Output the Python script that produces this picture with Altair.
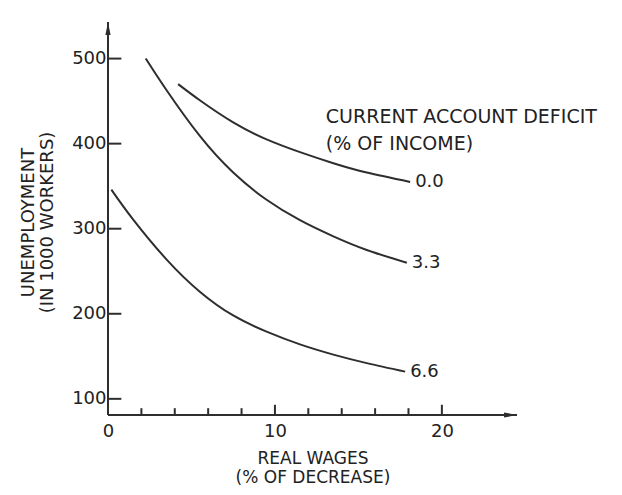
import altair as alt
import pandas as pd

# ---- data ----
X_DOMAIN = [0, 24.5]
Y_DOMAIN = [81, 543]

Y_TICKS = [100, 200, 300, 400, 500]
X_MINOR_TICKS = [2, 4, 6, 8, 12, 14, 16, 18]
X_MAJOR_TICKS = [10, 20]
X_LABELS = [0, 10, 20]

DEFICITS = ["0.0", "3.3", "6.6"]
CURVE_00_X = [4.2, 5.5, 7.5, 9.5, 11.5, 13.5, 15.5, 18.1]
CURVE_00_Y = [470, 451, 425, 405, 390, 377, 366, 355]
CURVE_33_X = [2.26, 3.5, 5.5, 7.5, 9.5, 11.5, 13.5, 15.5, 17.9]
CURVE_33_Y = [500, 463, 409, 366, 334, 310, 291, 275, 260]
CURVE_66_X = [0.2, 1.5, 3.5, 5.5, 7.5, 9.5, 11.5, 13.5, 15.5, 17.8]
CURVE_66_Y = [346, 311, 264, 226, 198, 179, 164, 152, 142, 132]

NOTE_LINES = ["CURRENT ACCOUNT DEFICIT", "(% OF INCOME)"]
NOTE_X = [13.05, 13.05]
NOTE_Y = [431, 399]

X_TITLE = ["REAL WAGES", "(% OF DECREASE)"]
Y_TITLE = ["UNEMPLOYMENT", "(IN 1000 WORKERS)"]

FONT = "DejaVu Sans"
INK = "#222222"
LINE = "#2e2e2e"
FS = 18

# ---- tables ----
rows = []
for name, xv, yv in [(DEFICITS[0], CURVE_00_X, CURVE_00_Y),
                     (DEFICITS[1], CURVE_33_X, CURVE_33_Y),
                     (DEFICITS[2], CURVE_66_X, CURVE_66_Y)]:
    for i, (x, y) in enumerate(zip(xv, yv)):
        rows.append({"deficit": name, "x": x, "y": y, "order": i})
curves = pd.DataFrame(rows)
ends = curves.sort_values("order").groupby("deficit").tail(1)

axis_lines = pd.DataFrame({
    "x": [X_DOMAIN[0], X_DOMAIN[0]],
    "x2": [X_DOMAIN[0], X_DOMAIN[1]],
    "y": [Y_DOMAIN[0], Y_DOMAIN[0]],
    "y2": [Y_DOMAIN[1], Y_DOMAIN[0]],
})
ytick_df = pd.DataFrame({"y": Y_TICKS, "x": 0.0, "x2": 0.8})
xtick_df = pd.DataFrame({
    "x": X_MINOR_TICKS + X_MAJOR_TICKS,
    "y": Y_DOMAIN[0],
    "y2": [Y_DOMAIN[0] + 8] * len(X_MINOR_TICKS) + [Y_DOMAIN[0] + 12] * len(X_MAJOR_TICKS),
})
arrow_up = pd.DataFrame({"x": [X_DOMAIN[0]], "y": [Y_DOMAIN[1]]})
arrow_right = pd.DataFrame({"x": [X_DOMAIN[1]], "y": [Y_DOMAIN[0]]})
note_df = pd.DataFrame({"text": NOTE_LINES, "x": NOTE_X, "y": NOTE_Y})

xs = alt.Scale(domain=X_DOMAIN, nice=False, zero=False)
ys = alt.Scale(domain=Y_DOMAIN, nice=False, zero=False)

x_axis = alt.Axis(values=X_LABELS, domain=False, ticks=False, tickSize=0,
                  grid=False, labelPadding=7, labelFontSize=FS, labelFont=FONT,
                  labelColor=INK, title=X_TITLE, titleFont=FONT, titleFontSize=17,
                  titleFontWeight="normal", titleColor=INK, titleLineHeight=19,
                  titleBaseline="alphabetic", titleY=48, labelFlush=False)
y_axis = alt.Axis(values=Y_TICKS, domain=False, ticks=False, tickSize=0,
                  grid=False, labelPadding=2, labelFontSize=FS, labelFont=FONT,
                  labelColor=INK, title=Y_TITLE, titleFont=FONT, titleFontSize=FS,
                  titleFontWeight="normal", titleColor=INK, titleLineHeight=19,
                  titleAngle=270, titleX=-80, titleY=200, titleAlign="center",
                  titleBaseline="middle", labelFlush=False)


def X(field):
    return alt.X(field, scale=xs, axis=x_axis)


def Y(field):
    return alt.Y(field, scale=ys, axis=y_axis)


axes = alt.Chart(axis_lines).mark_rule(color=LINE, strokeWidth=2).encode(
    x=X("x:Q"), x2="x2:Q", y=Y("y:Q"), y2="y2:Q",
)
yticks = alt.Chart(ytick_df).mark_rule(color=LINE, strokeWidth=2).encode(
    x=X("x:Q"), x2="x2:Q", y=Y("y:Q"),
)
xticks = alt.Chart(xtick_df).mark_rule(color=LINE, strokeWidth=2).encode(
    x=X("x:Q"), y=Y("y:Q"), y2="y2:Q",
)
up = alt.Chart(arrow_up).mark_point(
    shape="M0,0L-0.3,1.5L0.3,1.5Z", filled=True, color=LINE, opacity=1, size=300
).encode(x=X("x:Q"), y=Y("y:Q"))
right = alt.Chart(arrow_right).mark_point(
    shape="M0,0L-1.5,-0.3L-1.5,0.3Z", filled=True, color=LINE, opacity=1, size=300
).encode(x=X("x:Q"), y=Y("y:Q"))

lines = alt.Chart(curves).mark_line(color=LINE, strokeWidth=2, interpolate="natural").encode(
    x=X("x:Q"),
    y=Y("y:Q"),
    detail="deficit:N",
    order="order:Q",
)
end_labels = alt.Chart(ends).mark_text(
    align="left", baseline="middle", dx=5, font=FONT, fontSize=FS, color=INK
).encode(x=X("x:Q"), y=Y("y:Q"), text="deficit:N")
note = alt.Chart(note_df).mark_text(
    align="left", baseline="middle", font=FONT, fontSize=19, color=INK
).encode(x=X("x:Q"), y=Y("y:Q"), text="text:N")

chart = alt.layer(axes, yticks, xticks, up, right, lines, end_labels, note).properties(
    width=409, height=393,
    autosize=alt.AutoSizeParams(type="none"),
    padding={"left": 100, "top": 14, "right": 97, "bottom": 72},
    background="white",
).configure_view(stroke=None)

chart.save("out.html", embed_options={"renderer": "svg", "actions": False})
